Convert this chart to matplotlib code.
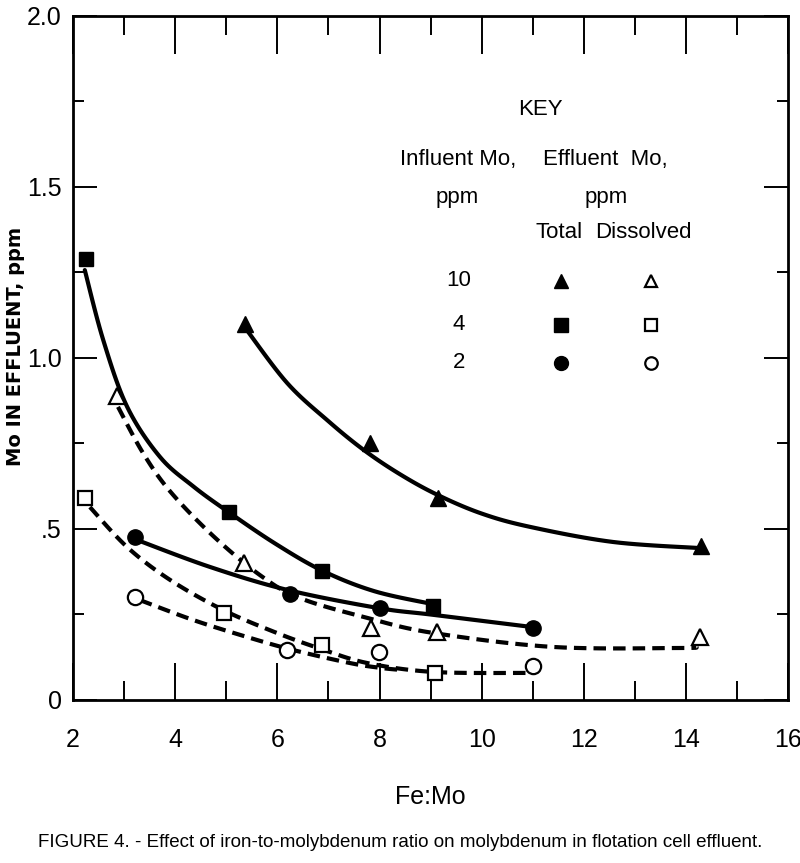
import numpy as np
import matplotlib
matplotlib.use("Agg")
import matplotlib.pyplot as plt
from matplotlib.ticker import MultipleLocator

plt.rcParams['font.family'] = ['Liberation Sans', 'DejaVu Sans']

# measured points, Fe:Mo ratio vs Mo in effluent (ppm)
tri_tot_x = [5.37, 7.82, 9.15, 14.3]
tri_tot_y = [1.10, 0.75, 0.59, 0.45]
sq_tot_x = [2.25, 5.05, 6.88, 9.05]
sq_tot_y = [1.29, 0.55, 0.377, 0.275]
cir_tot_x = [3.21, 6.25, 8.0, 11.0]
cir_tot_y = [0.477, 0.31, 0.27, 0.21]
tri_dis_x = [2.86, 5.35, 7.83, 9.13, 14.28]
tri_dis_y = [0.89, 0.40, 0.21, 0.20, 0.185]
sq_dis_x = [2.23, 4.96, 6.88, 9.09]
sq_dis_y = [0.59, 0.255, 0.16, 0.08]
cir_dis_x = [3.21, 6.19, 7.99, 11.0]
cir_dis_y = [0.30, 0.146, 0.14, 0.10]

# hand-drawn fitted curves
c10_tot_x = [5.37, 6.19, 7.0, 7.7, 8.4, 9.13, 10.0, 10.95, 12.57, 14.28]
c10_tot_y = [1.088, 0.927, 0.815, 0.73, 0.66, 0.60, 0.545, 0.506, 0.462, 0.444]
c4_tot_x = [2.23, 2.59, 3.06, 3.70, 4.35, 5.02, 5.95, 6.88, 7.9, 9.05]
c4_tot_y = [1.257, 1.053, 0.857, 0.711, 0.625, 0.552, 0.458, 0.378, 0.318, 0.280]
c2_tot_x = [3.25, 4.68, 6.19, 7.97, 9.05, 11.0]
c2_tot_y = [0.468, 0.389, 0.322, 0.269, 0.249, 0.213]
c10_dis_x = [2.88, 3.37, 3.90, 4.74, 5.66, 6.44, 7.76, 9.05, 11.4, 13.9, 14.2]
c10_dis_y = [0.857, 0.722, 0.610, 0.480, 0.365, 0.298, 0.240, 0.196, 0.155, 0.152, 0.155]
c4_dis_x = [2.33, 3.06, 3.90, 4.94, 5.99, 6.84, 7.76, 9.05, 10.89]
c4_dis_y = [0.564, 0.447, 0.351, 0.263, 0.196, 0.150, 0.108, 0.082, 0.079]
c2_dis_x = [3.31, 4.35, 5.41, 6.31, 7.42, 8.01, 8.4]
c2_dis_y = [0.292, 0.234, 0.184, 0.146, 0.108, 0.094, 0.088]


def smooth(xs, ys, n=12):
    # catmull-rom through the traced vertices, just to render a smooth stroke
    p = np.column_stack([xs, ys])
    p = np.vstack([p[0], p, p[-1]])
    out = []
    t = np.linspace(0, 1, n, endpoint=False)[:, None]
    for i in range(1, len(p) - 2):
        p0, p1, p2, p3 = p[i - 1], p[i], p[i + 1], p[i + 2]
        out.append(0.5 * (2 * p1 + (-p0 + p2) * t + (2 * p0 - 5 * p1 + 4 * p2 - p3) * t ** 2
                          + (-p0 + 3 * p1 - 3 * p2 + p3) * t ** 3))
    out.append(p[-2][None, :])
    out = np.vstack(out)
    return out[:, 0], out[:, 1]


fig = plt.figure(figsize=(8, 8.63), dpi=100)
ax = fig.add_axes([0.0913, 0.1889, 0.894, 0.7926])

solid = dict(color='black', lw=3.0, solid_capstyle='round', solid_joinstyle='round')
dashed = dict(color='black', lw=3.0, ls=(0, (3.0, 1.7)), dash_capstyle='butt')
for cx, cy in [(c10_tot_x, c10_tot_y), (c4_tot_x, c4_tot_y), (c2_tot_x, c2_tot_y)]:
    ax.plot(*smooth(cx, cy), **solid)
for cx, cy in [(c10_dis_x, c10_dis_y), (c4_dis_x, c4_dis_y), (c2_dis_x, c2_dis_y)]:
    ax.plot(*smooth(cx, cy), **dashed)

ax.plot(tri_tot_x, tri_tot_y, '^', color='black', ms=12, ls='none')
ax.plot(sq_tot_x, sq_tot_y, 's', color='black', ms=10, ls='none')
ax.plot(cir_tot_x, cir_tot_y, 'o', color='black', ms=11, ls='none')
openm = dict(mfc='white', mec='black', mew=1.6, ls='none')
ax.plot(tri_dis_x, tri_dis_y, '^', ms=12, **openm)
ax.plot(sq_dis_x, sq_dis_y, 's', ms=10, **openm)
ax.plot(cir_dis_x, cir_dis_y, 'o', ms=11, **openm)

ax.set_xlim(2, 16)
ax.set_ylim(0, 2.0)
ax.xaxis.set_major_locator(MultipleLocator(2))
ax.xaxis.set_minor_locator(MultipleLocator(1))
ax.yaxis.set_minor_locator(MultipleLocator(0.25))
ax.set_yticks([0, 0.5, 1.0, 1.5, 2.0])
ax.set_yticklabels(['0', '.5', '1.0', '1.5', '2.0'])
ax.tick_params(axis='x', which='major', direction='in', length=27, width=1.4,
               top=True, labelsize=18, pad=20)
ax.tick_params(axis='x', which='minor', direction='in', length=14, width=1.4, top=True)
ax.tick_params(axis='y', which='major', direction='in', length=17, width=1.4,
               right=True, labelsize=18, pad=8)
ax.tick_params(axis='y', which='minor', direction='in', length=8, width=1.4, right=True)
for s in ax.spines.values():
    s.set_linewidth(2.0)

ax.set_xlabel('Fe:Mo', fontsize=18, labelpad=24)
fig.text(0.020, 0.598, 'Mo IN EFFLUENT, ppm', rotation=90, ha='center', va='center',
         fontsize=14, fontweight='bold', family=['DejaVu Sans'])

# key, placed in data coords
kx = lambda px: 2 + (px - 73) / 51.07
ky = lambda py: (700 - py) / 342.0
kt = dict(ha='center', va='center', fontsize=16)
ax.text(kx(540), ky(110), 'KEY', **kt)
ax.text(kx(458), ky(160), 'Influent Mo,', **kt)
ax.text(kx(457), ky(198), 'ppm', **kt)
ax.text(kx(605), ky(160), 'Effluent  Mo,', **kt)
ax.text(kx(606), ky(198), 'ppm', **kt)
ax.text(kx(559), ky(233), 'Total', **kt)
ax.text(kx(643), ky(233), 'Dissolved', **kt)
key_rows = ['10', '4', '2']
key_mk = ['^', 's', 'o']
key_py = [281, 325, 363]
for lab, mk, py in zip(key_rows, key_mk, key_py):
    ax.text(kx(459), ky(py), lab, **kt)
    ax.plot([kx(561)], [ky(py)], mk, color='black', ms=10)
    ax.plot([kx(651)], [ky(py)], mk, ms=9, **openm)

fig.text(0.5, 0.024, 'FIGURE 4. - Effect of iron-to-molybdenum ratio on molybdenum in flotation cell effluent.',
         ha='center', va='center', fontsize=13.5)

fig.savefig('out.png', dpi=100)
